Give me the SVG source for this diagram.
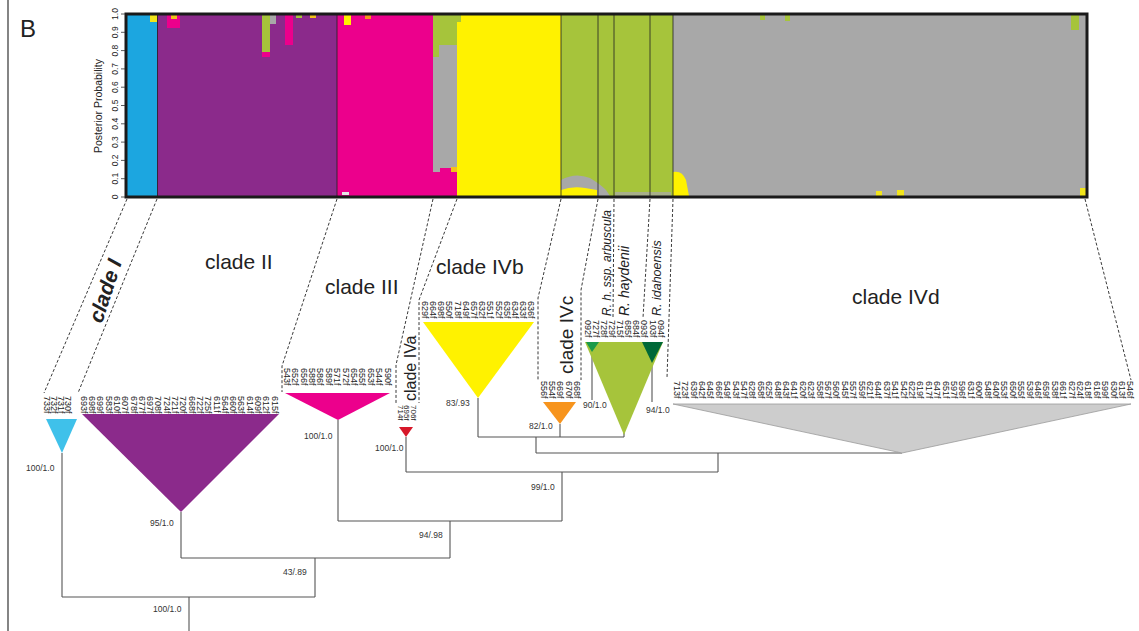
<svg xmlns="http://www.w3.org/2000/svg" width="1139" height="631" viewBox="0 0 1139 631">
<style>
text{font-family:"Liberation Sans",Arial,sans-serif;fill:#222}
.lb{font-size:9px}
.sup{font-size:8.5px;fill:#333}
.cl{font-size:21px}
.sp{font-style:italic}
.ax{font-size:8.5px;text-anchor:middle}
.dash{fill:none;stroke:#222;stroke-width:0.9;stroke-dasharray:3,2}
.br{fill:none;stroke:#555;stroke-width:1.1}
.sep{stroke:#222;stroke-width:0.8}
</style>
<rect width="1139" height="631" fill="#fff"/>
<line x1="8" y1="0" x2="8" y2="631" stroke="#333" stroke-width="1.2"/>
<text x="20" y="37" font-size="24">B</text>

<g id="structure-plot">
<rect x="127" y="15" width="31" height="181" fill="#1ca6e0"/>
<rect x="150" y="15" width="7" height="7" fill="#f2e51b"/>
<rect x="157" y="15" width="180" height="181" fill="#8b2a8b"/>
<rect x="167" y="15" width="13" height="13" fill="#ec008c"/>
<rect x="171" y="15" width="6" height="4" fill="#f2c21b"/>
<rect x="262" y="15" width="8" height="42" fill="#a6c43b"/>
<rect x="262" y="52" width="8" height="5" fill="#ec008c"/>
<rect x="270" y="15" width="6" height="9" fill="#a8a8a8"/>
<rect x="285" y="15" width="8" height="30" fill="#ec008c"/>
<rect x="296" y="15" width="6" height="3" fill="#a6c43b"/>
<rect x="310" y="15" width="6" height="3" fill="#f2c21b"/>
<rect x="337" y="15" width="96" height="181" fill="#ec008c"/>
<rect x="344" y="15" width="7" height="10" fill="#fff200"/>
<rect x="365" y="15" width="6" height="4" fill="#f7941d"/>
<rect x="342" y="192" width="7" height="3" fill="#e6e6e6"/>
<rect x="433" y="15" width="24" height="181" fill="#a8a8a8"/>
<rect x="433" y="15" width="24" height="30" fill="#a6c43b"/>
<rect x="433" y="45" width="6" height="12" fill="#a6c43b"/>
<rect x="433" y="172" width="24" height="24" fill="#ec008c"/>
<rect x="440" y="168" width="11" height="5" fill="#ec008c"/>
<rect x="451" y="167" width="6" height="5" fill="#f2c21b"/>
<rect x="457" y="15" width="104" height="181" fill="#fff200"/>
<rect x="457" y="15" width="4" height="7" fill="#a6c43b"/>
<rect x="561" y="15" width="112" height="181" fill="#a6c43b"/>
<path d="M561,196 V180 Q575,172 590,178 Q600,184 606,190 L610,196 Z" fill="#a8a8a8"/>
<path d="M561,196 V190 Q572,186 585,188 L597,190 V196 Z" fill="#fff200"/>
<rect x="615" y="192" width="56" height="4" fill="#a8b08a"/>
<rect x="673" y="15" width="413" height="181" fill="#a8a8a8"/>
<path d="M673,196 V172 Q682,170 686,180 L689,196 Z" fill="#fff200"/>
<rect x="876" y="191" width="6" height="5" fill="#f2e51b"/>
<rect x="897" y="190" width="7" height="6" fill="#f2e51b"/>
<rect x="1071" y="15" width="8" height="15" fill="#a6c43b"/>
<rect x="1080" y="188" width="6" height="8" fill="#f2e51b"/>
<rect x="760" y="15" width="5" height="5" fill="#a6c43b"/>
<rect x="785" y="15" width="5" height="6" fill="#a6c43b"/>
<line class="sep" x1="157.5" y1="15" x2="157.5" y2="196"/>
<line class="sep" x1="337" y1="15" x2="337" y2="196"/>
<line class="sep" x1="561" y1="15" x2="561" y2="196"/>
<line class="sep" x1="598" y1="15" x2="598" y2="196"/>
<line class="sep" x1="614" y1="15" x2="614" y2="196"/>
<line class="sep" x1="650" y1="15" x2="650" y2="196"/>
<line class="sep" x1="673" y1="15" x2="673" y2="196"/>
<rect x="126" y="14" width="961" height="183" fill="none" stroke="#1a1a1a" stroke-width="3"/>
<g stroke="#333" stroke-width="0.8">
<line x1="121" y1="197" x2="125" y2="197"/><line x1="121" y1="178.7" x2="125" y2="178.7"/><line x1="121" y1="160.4" x2="125" y2="160.4"/><line x1="121" y1="142.1" x2="125" y2="142.1"/><line x1="121" y1="123.8" x2="125" y2="123.8"/><line x1="121" y1="105.5" x2="125" y2="105.5"/><line x1="121" y1="87.2" x2="125" y2="87.2"/><line x1="121" y1="68.9" x2="125" y2="68.9"/><line x1="121" y1="50.6" x2="125" y2="50.6"/><line x1="121" y1="32.3" x2="125" y2="32.3"/><line x1="121" y1="14" x2="125" y2="14"/>
</g>
<text class="ax" transform="translate(118,197) rotate(-90)">0</text>
<text class="ax" transform="translate(118,178.7) rotate(-90)">0.1</text>
<text class="ax" transform="translate(118,160.4) rotate(-90)">0.2</text>
<text class="ax" transform="translate(118,142.1) rotate(-90)">0.3</text>
<text class="ax" transform="translate(118,123.8) rotate(-90)">0.4</text>
<text class="ax" transform="translate(118,105.5) rotate(-90)">0.5</text>
<text class="ax" transform="translate(118,87.2) rotate(-90)">0.6</text>
<text class="ax" transform="translate(118,68.9) rotate(-90)">0.7</text>
<text class="ax" transform="translate(118,50.6) rotate(-90)">0.8</text>
<text class="ax" transform="translate(118,32.3) rotate(-90)">0.9</text>
<text class="ax" transform="translate(118,14) rotate(-90)">1.0</text>
<text font-size="10.5" text-anchor="middle" transform="translate(102,106) rotate(-90)">Posterior Probability</text>
</g>

<g id="connectors">
<path class="dash" d="M127,199 L44,393"/>
<path class="dash" d="M157,199 L78,393"/>
<path class="dash" d="M337,199 L282,366 L282,392"/>
<path class="dash" d="M433,199 L396,365 L396,403"/>
<path class="dash" d="M457,199 L419,300 L419,403"/>
<path class="dash" d="M561,199 L538,298 L538,380"/>
<path class="dash" d="M598,199 L581,290 L581,380"/>
<path class="dash" d="M614,199 L613,318"/>
<path class="dash" d="M650,199 L643,318"/>
<path class="dash" d="M673,199 L667,378"/>
<path class="dash" d="M1085,199 L1131,380"/>
<path class="br" d="M62,453 V597 M62,597 H315 M189,597 V631 M315,597 V558 M181,512 V558 M181,558 H450 M450,558 V521 M338,420 V521 M338,521 H562 M562,521 V472 M406,437 V472 M406,472 H718 M718,472 V453 M536,453 H902 M536,453 V437 M478,398 V437 M478,437 H624 M560,424 V437 M624,433 V437 M592,352 V400 M652,363 V402"/>
</g>

<g id="cladeI">
<polygon points="46,419 77,419 62,453" fill="#3fc1ea"/>
<text class="cl sp" font-weight="bold" font-size="26" text-anchor="middle" transform="translate(112,293) rotate(-72)">clade I</text>
<g class="lb" transform="translate(44.3,396) rotate(90)"><text y="0">733f</text><text y="-7">732f</text><text y="-14">731f</text><text y="-21">730f</text></g>
<text class="sup" x="26" y="471">100/1.0</text>
</g>

<g id="cladeII">
<polygon points="82,414 279,414 181,512" fill="#8b2a8b"/>
<text class="cl" x="205" y="269">clade II</text>
<g class="lb" transform="translate(80.8,396) rotate(90)"><text y="0">693f</text><text y="-8.3">698f</text><text y="-16.6">699f</text><text y="-24.9">583f</text><text y="-33.2">610f</text><text y="-41.5">607f</text><text y="-49.8">678f</text><text y="-58.1">677f</text><text y="-66.4">697f</text><text y="-74.7">708f</text><text y="-83">724f</text><text y="-91.3">721f</text><text y="-99.6">720f</text><text y="-107.9">668f</text><text y="-116.2">722f</text><text y="-124.5">725f</text><text y="-132.8">611f</text><text y="-141.1">564f</text><text y="-149.4">660f</text><text y="-157.7">563f</text><text y="-166">614f</text><text y="-174.3">609f</text><text y="-182.6">612f</text><text y="-190.9">615f</text></g>
<text class="sup" x="150" y="526">95/1.0</text>
</g>

<g id="cladeIII">
<polygon points="285,393 390,393 338,420" fill="#ec008c"/>
<text class="cl" x="325" y="294">clade III</text>
<g class="lb" transform="translate(283.8,368) rotate(90)"><text y="0">543f</text><text y="-8.4">652f</text><text y="-16.8">656f</text><text y="-25.2">588f</text><text y="-33.6">586f</text><text y="-42">589f</text><text y="-50.4">571f</text><text y="-58.8">572f</text><text y="-67.2">654f</text><text y="-75.6">655f</text><text y="-84">653f</text><text y="-92.4">544f</text><text y="-100.8">590f</text></g>
<text class="sup" x="304" y="439">100/1.0</text>
</g>

<g id="cladeIVa">
<polygon points="399,427 413,427 406,437" fill="#d7182a"/>
<text font-size="16" transform="translate(416,401) rotate(-90)">clade IVa</text>
<g class="lb" font-size="8" transform="translate(397.5,405) rotate(90)"><text y="0" font-size="8">714f</text><text y="-6.5" font-size="8">695f</text><text y="-13" font-size="8">706f</text></g>
<text class="sup" x="375" y="451">100/1.0</text>
</g>

<g id="cladeIVb">
<polygon points="423,322 534,322 478,398" fill="#fff200"/>
<text class="cl" x="436" y="274">clade IVb</text>
<g class="lb" transform="translate(421.8,301) rotate(90)"><text y="0">629f</text><text y="-8.2">664f</text><text y="-16.4">698f</text><text y="-24.6">550f</text><text y="-32.8">718f</text><text y="-41">649f</text><text y="-49.2">657f</text><text y="-57.4">632f</text><text y="-65.6">551f</text><text y="-73.8">552f</text><text y="-82">635f</text><text y="-90.2">634f</text><text y="-98.4">633f</text><text y="-106.6">636f</text></g>
<text class="sup" x="446" y="406">83/.93</text>
</g>

<g id="cladeIVc">
<polygon points="543,402 576,402 560,424" fill="#f7941d"/>
<text font-size="19" transform="translate(573,374) rotate(-90)">clade IVc</text>
<g class="lb" transform="translate(540.8,381) rotate(90)"><text y="0">556f</text><text y="-8.3">554f</text><text y="-16.6">669f</text><text y="-24.9">670f</text><text y="-33.2">668f</text></g>
<text class="sup" x="529" y="429">82/1.0</text>
</g>

<g id="haydenii">
<polygon points="585,342 663,342 624,435" fill="#a6c43b"/>
<text class="sp" font-size="14" transform="translate(629,316) rotate(-90)">R. haydenii</text>
<g class="lb" transform="translate(584.8,320) rotate(90)"><text y="-16.2">728f</text><text y="-24.3">729f</text><text y="-32.4">715f</text><text y="-40.5">685f</text><text y="-48.6">684f</text></g>
</g>

<g id="arbuscula">
<polygon points="586,342 599,342 592,352" fill="#1a9a4a"/>
<text class="sp" font-size="12" transform="translate(611,316) rotate(-90)">R. h. ssp. arbuscula</text>
<g class="lb" transform="translate(584.8,320) rotate(90)"><text y="0">092f</text><text y="-8.1">727f</text></g>
<text class="sup" x="583" y="408">90/1.0</text>
</g>

<g id="idahoensis">
<polygon points="642,342 663,342 652,363" fill="#006837"/>
<text class="sp" font-size="12.5" transform="translate(661,316) rotate(-90)">R. idahoensis</text>
<g class="lb" transform="translate(584.8,320) rotate(90)"><text y="-56.7">093f</text><text y="-64.8">103f</text><text y="-72.9">094f</text></g>
<text class="sup" x="646" y="413">94/1.0</text>
</g>

<g id="cladeIVd">
<polygon points="673,404 1131,404 902,453" fill="#cdcdcd" stroke="#9a9a9a" stroke-width="0.8"/>
<text class="cl" font-size="23" x="852" y="304">clade IVd</text>
<g class="lb" transform="translate(673.8,381) rotate(90)"><text y="0">713f</text><text y="-8.4">723f</text><text y="-16.8">639f</text><text y="-25.2">642f</text><text y="-33.6">645f</text><text y="-42">666f</text><text y="-50.4">549f</text><text y="-58.8">543f</text><text y="-67.2">547f</text><text y="-75.6">628f</text><text y="-84">658f</text><text y="-92.4">625f</text><text y="-100.8">648f</text><text y="-109.2">643f</text><text y="-117.6">641f</text><text y="-126">620f</text><text y="-134.4">623f</text><text y="-142.8">558f</text><text y="-151.2">567f</text><text y="-159.6">560f</text><text y="-168">545f</text><text y="-176.4">557f</text><text y="-184.8">559f</text><text y="-193.2">621f</text><text y="-201.6">644f</text><text y="-210">637f</text><text y="-218.4">541f</text><text y="-226.8">542f</text><text y="-235.2">622f</text><text y="-243.6">619f</text><text y="-252">617f</text><text y="-260.4">647f</text><text y="-268.8">651f</text><text y="-277.2">597f</text><text y="-285.6">596f</text><text y="-294">631f</text><text y="-302.4">600f</text><text y="-310.8">548f</text><text y="-319.2">640f</text><text y="-327.6">553f</text><text y="-336">650f</text><text y="-344.4">555f</text><text y="-352.8">539f</text><text y="-361.2">646f</text><text y="-369.6">659f</text><text y="-378">538f</text><text y="-386.4">661f</text><text y="-394.8">627f</text><text y="-403.2">624f</text><text y="-411.6">618f</text><text y="-420">616f</text><text y="-428.4">599f</text><text y="-436.8">630f</text><text y="-445.2">613f</text><text y="-453.6">546f</text></g>
</g>

<g id="support">
<text class="sup" x="531" y="490">99/1.0</text>
<text class="sup" x="419" y="538">94/.98</text>
<text class="sup" x="283" y="575">43/.89</text>
<text class="sup" x="153" y="612">100/1.0</text>
</g>
</svg>
